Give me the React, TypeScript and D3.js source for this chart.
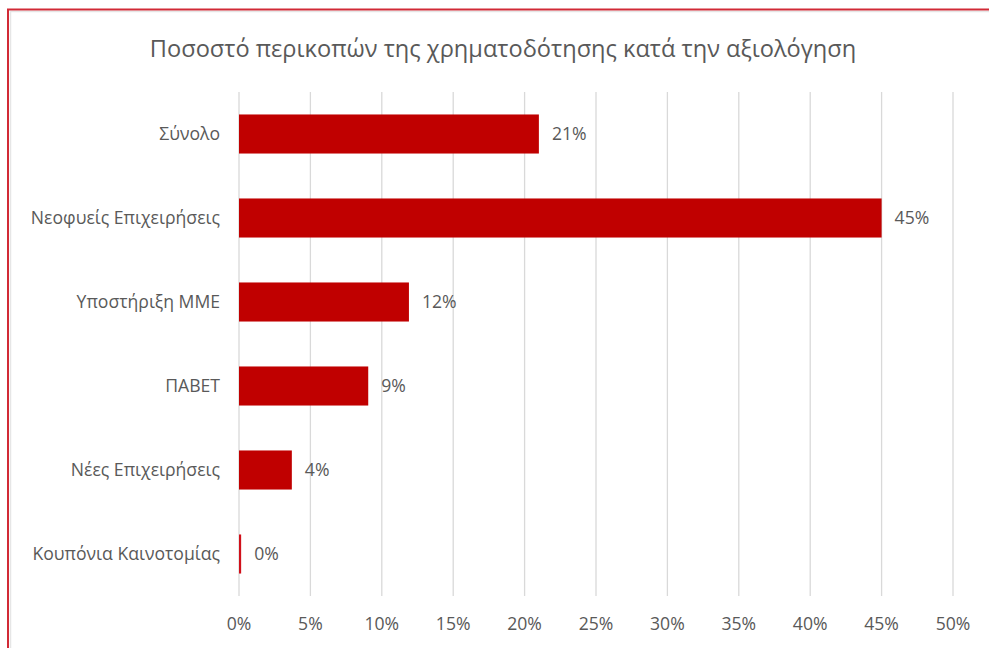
import React from "react";
import * as d3 from "d3";

const categories = [
  "Σύνολο",
  "Νεοφυείς Επιχειρήσεις",
  "Υποστήριξη ΜΜΕ",
  "ΠΑΒΕΤ",
  "Νέες Επιχειρήσεις",
  "Κουπόνια Καινοτομίας",
];
const values = [21.0, 45.0, 11.9, 9.05, 3.7, 0.15];
const valueLabels = ["21%", "45%", "12%", "9%", "4%", "0%"];
const xTicks = [0, 5, 10, 15, 20, 25, 30, 35, 40, 45, 50];
const title = "Ποσοστό περικοπών της χρηματοδότησης κατά την αξιολόγηση";

export default function App() {
  const W = 989;
  const H = 648;
  const left = 239;
  const right = 953;
  const top = 92;
  const bottom = 596;
  const x = d3.scaleLinear().domain([0, 50]).range([left, right]);
  const y = d3.scaleBand<string>().domain(categories).range([top, bottom]).paddingInner(0.535).paddingOuter(0.2675);
  const font = "'Open Sans', 'Noto Sans', sans-serif";
  const textColor = "#595959";
  const fs = 17.6;
  return (
    <svg
      width={W}
      height={H}
      style={{ position: "absolute", left: 0, top: 0, background: "#fff" }}
      fontFamily={font}
    >
      <rect x={0} y={0} width={W} height={H} fill="#fff" />
      <line x1={10.5} y1={11} x2={10.5} y2={H} stroke="#e6e6e6" strokeWidth={1.5} />
      <line x1={10} y1={11.5} x2={W} y2={11.5} stroke="#e6e6e6" strokeWidth={1.5} />
      <line x1={8} y1={9} x2={8} y2={H} stroke="#d12a36" strokeWidth={2} />
      <line x1={7} y1={9.5} x2={W} y2={9.5} stroke="#d12a36" strokeWidth={2} />
      <text x={503} y={57} textAnchor="middle" fontSize={23.6} fill={textColor}>
        {title}
      </text>
      {xTicks.map((t) => (
        <g key={t}>
          <line x1={x(t)} x2={x(t)} y1={top} y2={bottom} stroke="#d9d9d9" strokeWidth={1.3} />
          <text x={x(t)} y={630} textAnchor="middle" fontSize={fs} fill={textColor}>
            {t + "%"}
          </text>
        </g>
      ))}
      {categories.map((c, i) => {
        const yy = y(c) as number;
        const bh = y.bandwidth();
        const w = Math.max(x(values[i]) - x(0), 1.5);
        return (
          <g key={c}>
            <rect x={x(0)} y={yy} width={w} height={bh} fill={i === 5 ? "#d0101a" : "#c00000"} />
            <text
              x={220}
              y={yy + bh / 2}
              dy="0.35em"
              textAnchor="end"
              fontSize={fs}
              fill={textColor}
            >
              {c}
            </text>
            <text
              x={x(0) + w + 13}
              y={yy + bh / 2}
              dy="0.35em"
              textAnchor="start"
              fontSize={fs}
              fill={textColor}
            >
              {valueLabels[i]}
            </text>
          </g>
        );
      })}
    </svg>
  );
}
